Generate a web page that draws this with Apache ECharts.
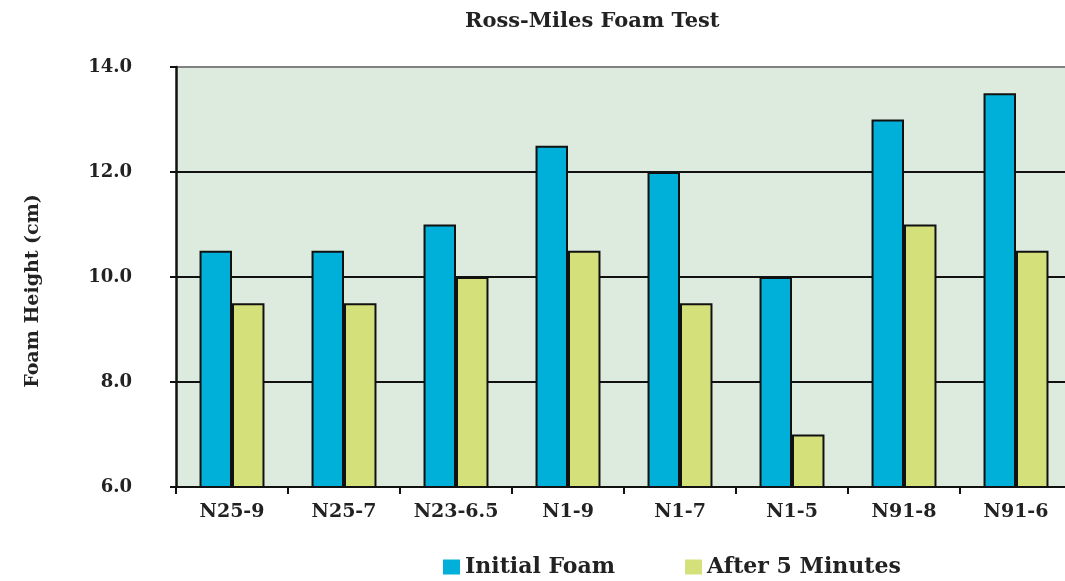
<!DOCTYPE html>
<html><head><meta charset="utf-8">
<script src="https://cdn.jsdelivr.net/npm/echarts@6/dist/echarts.min.js"></script>
<style>html,body{margin:0;padding:0;background:#fff;overflow:hidden}#c{width:1072px;height:581px}</style>
</head><body><div id="c"></div>
<script>
const categories = ['N25-9','N25-7','N23-6.5','N1-9','N1-7','N1-5','N91-8','N91-6'];
const initialFoam = [10.5,10.5,11,12.5,12,10,13,13.5];
const after5 = [9.5,9.5,10,10.5,9.5,7,11,10.5];
const seriesNames = ['Initial Foam','After 5 Minutes'];
const FONT = '"DejaVu Serif", "Liberation Serif", serif';
const chart = echarts.init(document.getElementById('c'));
chart.setOption({
  animation:false,
  title:{text:'Ross-Miles Foam Test',left:460,top:6,textStyle:{fontFamily:FONT,fontWeight:'bold',fontSize:21,color:'#222'}},
  legend:{top:551,left:438,itemGap:70,itemWidth:17,itemHeight:15,icon:'rect',
    itemStyle:{borderWidth:0},
    textStyle:{fontFamily:FONT,fontWeight:'bold',fontSize:22,color:'#222'},data:seriesNames},
  grid:{left:176,top:67,right:0,height:420,show:true,backgroundColor:'#DDEBDF',borderWidth:0},
  xAxis:{type:'category',data:categories,
    axisLine:{lineStyle:{color:'#111',width:2}},
    axisTick:{show:true,length:7,lineStyle:{color:'#111',width:2}},
    axisLabel:{fontFamily:FONT,fontWeight:'bold',fontSize:19,color:'#222',margin:16}},
  yAxis:{type:'value',min:6,max:14,interval:2,
    name:'Foam Height (cm)',nameLocation:'middle',nameGap:133,
    nameTextStyle:{fontFamily:FONT,fontWeight:'bold',fontSize:19,color:'#222',padding:[0,28,0,0]},
    axisLine:{show:true,lineStyle:{color:'#111',width:2.5}},
    axisTick:{show:true,length:6,lineStyle:{color:'#111',width:2}},
    axisLabel:{fontFamily:FONT,fontWeight:'bold',fontSize:18,color:'#222',margin:44,formatter:v=>v.toFixed(1)},
    splitLine:{show:true,lineStyle:{color:['#111','#111','#111','#111','#808080'],width:2}}},
  series:[
    {name:seriesNames[0],type:'bar',data:initialFoam,barGap:'0%',barCategoryGap:'42%',
      itemStyle:{color:'#00B0D8',borderColor:'#111',borderWidth:2}},
    {name:seriesNames[1],type:'bar',data:after5,
      itemStyle:{color:'#D4E17A',borderColor:'#111',borderWidth:2}}
  ]
});
</script></body></html>
